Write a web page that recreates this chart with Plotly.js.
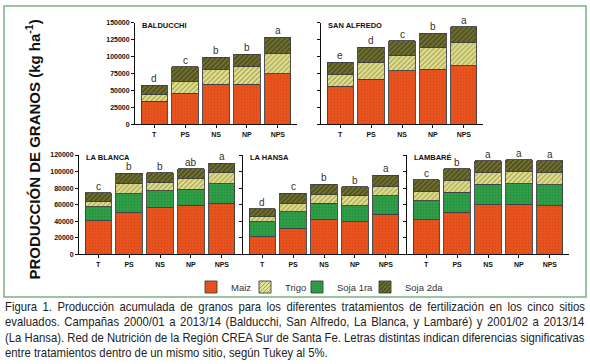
<!DOCTYPE html>
<html><head><meta charset="utf-8">
<script src="https://cdn.plot.ly/plotly-3.0.1.min.js"></script>
<style>html,body{margin:0;padding:0;background:#fff}#wrap{position:relative;width:590px;height:364px;overflow:hidden}#chart{position:absolute;left:0;top:0;width:590px;height:364px}#caption{position:absolute;left:0;top:0;width:590px;height:364px;pointer-events:none}</style>
</head><body><div id="wrap"><div id="chart"></div><div id="caption"></div></div>
<script>
const treatments = ['T', 'PS', 'NS', 'NP', 'NPS'];
const siteNames = ['BALDUCCHI', 'SAN ALFREDO', 'LA BLANCA', 'LA HANSA', 'LAMBARÉ'];
const seriesNames = ['Maiz', 'Trigo', 'Soja 1ra', 'Soja 2da'];

// kg/ha, accumulated
const maizBalducchi   = [34000, 46000, 59500, 59500, 75000];
const trigoBalducchi  = [9500, 17500, 21500, 26500, 29500];
const soja2Balducchi  = [14500, 21500, 18300, 17300, 23800];
const letrasBalducchi = ['d', 'c', 'b', 'b', 'a'];

const maizSanAlfredo   = [56500, 66400, 78700, 81100, 86100];
const trigoSanAlfredo  = [16300, 24600, 23600, 32000, 34400];
const soja2SanAlfredo  = [18700, 23100, 20700, 21700, 23600];
const letrasSanAlfredo = ['e', 'd', 'c', 'b', 'a'];

const maizLaBlanca   = [40300, 50300, 56400, 59200, 61600];
const soja1LaBlanca  = [16900, 22600, 20500, 19700, 23400];
const trigoLaBlanca  = [7200, 12900, 10100, 12900, 14100];
const soja2LaBlanca  = [10100, 12100, 11700, 11700, 10800];
const letrasLaBlanca = ['c', 'b', 'b', 'ab', 'a'];

const maizLaHansa   = [21300, 31400, 42300, 39500, 48700];
const soja1LaHansa  = [18200, 20100, 19300, 19300, 21800];
const trigoLaHansa  = [6000, 9300, 10100, 11700, 11200];
const soja2LaHansa  = [9300, 12900, 12900, 11200, 14100];
const letrasLaHansa = ['d', 'c', 'b', 'b', 'a'];

const maizLambare   = [41500, 50700, 59600, 60400, 58800];
const soja1Lambare  = [23300, 24200, 25000, 24600, 25400];
const trigoLambare  = [11700, 14100, 14500, 14900, 14900];
const soja2Lambare  = [13300, 14100, 14100, 14100, 14100];
const letrasLambare = ['c', 'b', 'a', 'a', 'a'];

const yTicksTop = [0, 25000, 50000, 75000, 100000, 125000, 150000];
const yTicksBottom = [0, 20000, 40000, 60000, 80000, 100000, 120000];

const captionLines = [
  'Figura 1. Producción acumulada de granos para los diferentes tratamientos de fertilización en los cinco sitios',
  'evaluados. Campañas 2000/01 a 2013/14 (Balducchi, San Alfredo, La Blanca, y Lambaré) y 2001/02 a 2013/14',
  '(La Hansa). Red de Nutrición de la Región CREA Sur de Santa Fe. Letras distintas indican diferencias significativas',
  'entre tratamientos dentro de un mismo sitio, según Tukey al 5%.'
];

const W = 590, H = 364;
const FONT = 'Liberation Sans, Arial, sans-serif';
const px = v => v / W;
const py = v => 1 - v / H;

const styles = {
  'Maiz':     {bg: '#E9541E', fg: '#D6481A', shape: '.', size: 3, solidity: 0.25, legend: 'legend',  lx: 191},
  'Trigo':    {bg: '#E4E296', fg: '#A3A04A', shape: '/', size: 3.5, solidity: 0.35, legend: 'legend2', lx: 245},
  'Soja 1ra': {bg: '#2E9F48', fg: '#27893D', shape: '.', size: 3, solidity: 0.25, legend: 'legend3', lx: 297},
  'Soja 2da': {bg: '#4F4F1F', fg: '#7C7C3A', shape: '/', size: 3.5, solidity: 0.4, legend: 'legend4', lx: 365}
};

const panels = [
  {name: siteNames[0], stack: [['Maiz', maizBalducchi], ['Trigo', trigoBalducchi], ['Soja 2da', soja2Balducchi]], letters: letrasBalducchi,
   xd: [135, 297], yd: [124.3, 22.7], ymax: 150000, ticks: yTicksTop, labels: true},
  {name: siteNames[1], stack: [['Maiz', maizSanAlfredo], ['Trigo', trigoSanAlfredo], ['Soja 2da', soja2SanAlfredo]], letters: letrasSanAlfredo,
   xd: [321, 483], yd: [124.3, 22.7], ymax: 150000, ticks: yTicksTop, labels: false},
  {name: siteNames[2], stack: [['Maiz', maizLaBlanca], ['Soja 1ra', soja1LaBlanca], ['Trigo', trigoLaBlanca], ['Soja 2da', soja2LaBlanca]], letters: letrasLaBlanca,
   xd: [79, 241], yd: [254.3, 155], ymax: 120000, ticks: yTicksBottom, labels: true},
  {name: siteNames[3], stack: [['Maiz', maizLaHansa], ['Soja 1ra', soja1LaHansa], ['Trigo', trigoLaHansa], ['Soja 2da', soja2LaHansa]], letters: letrasLaHansa,
   xd: [243, 405], yd: [254.3, 155], ymax: 120000, ticks: yTicksBottom, labels: false},
  {name: siteNames[4], stack: [['Maiz', maizLambare], ['Soja 1ra', soja1Lambare], ['Trigo', trigoLambare], ['Soja 2da', soja2Lambare]], letters: letrasLambare,
   xd: [407, 569], yd: [254.3, 155], ymax: 120000, ticks: yTicksBottom, labels: false}
];

const traces = [];
const annotations = [];
const layout = {
  width: W, height: H,
  margin: {l: 0, r: 0, t: 0, b: 0},
  paper_bgcolor: 'rgba(0,0,0,0)', plot_bgcolor: '#fff',
  barmode: 'stack', bargap: 0.15,
  font: {family: FONT, color: '#222'},
  showlegend: true,
  shapes: [{type: 'rect', xref: 'paper', yref: 'paper', x0: px(4), x1: px(586), y0: py(297), y1: py(6),
            line: {color: '#78B282', width: 1.5}, fillcolor: 'rgba(0,0,0,0)'}],
  annotations: annotations
};
seriesNames.forEach(s => {
  const st = styles[s];
  layout[st.legend] = {orientation: 'h', x: px(st.lx), xanchor: 'left', y: py(287), yanchor: 'middle',
    font: {family: FONT, size: 9.5, color: '#333'}, bgcolor: 'rgba(0,0,0,0)', borderwidth: 0};
});

const legendShown = {};
panels.forEach((p, i) => {
  const n = i === 0 ? '' : String(i + 1);
  const xa = 'x' + n, ya = 'y' + n;
  p.stack.forEach(([s, vals]) => {
    const st = styles[s];
    const show = !legendShown[s];
    legendShown[s] = true;
    traces.push({
      type: 'bar', x: treatments, y: vals, name: s, xaxis: xa, yaxis: ya,
      legendgroup: s, showlegend: show, legend: st.legend,
      marker: {color: st.bg, line: {color: '#3f3f3f', width: 0.9},
               pattern: {shape: st.shape, bgcolor: st.bg, fgcolor: st.fg, size: st.size, solidity: st.solidity}},
      hoverinfo: 'skip'
    });
  });
  layout['xaxis' + n] = {
    domain: [px(p.xd[0]), px(p.xd[1])], anchor: ya, type: 'category',
    range: [-0.62, 4.62], showline: true, linecolor: '#111', linewidth: 1,
    ticks: 'outside', ticklen: 3, tickcolor: '#111', showgrid: false, zeroline: false,
    tickfont: {family: FONT, size: 7, color: '#111', weight: 'bold'}, fixedrange: true
  };
  layout['yaxis' + n] = {
    domain: [py(p.yd[0]), py(p.yd[1])], anchor: xa,
    range: [0, p.ymax], showline: true, linecolor: '#111', linewidth: 1,
    ticks: 'outside', ticklen: 3, tickcolor: '#111', tickvals: p.ticks,
    ticktext: p.ticks.map(String), showticklabels: p.labels, showgrid: false, zeroline: false,
    tickfont: {family: FONT, size: 7, color: '#111', weight: 'bold'}, fixedrange: true
  };
  annotations.push({xref: 'paper', yref: 'paper', x: px(p.xd[0] + 5), y: py(p.yd[1] + 2.5), xanchor: 'left', yanchor: 'middle',
    text: p.name, showarrow: false, font: {family: FONT, size: 7.5, color: '#111', weight: 'bold'}});
  treatments.forEach((t, k) => {
    const total = p.stack.reduce((a, [, v]) => a + v[k], 0);
    annotations.push({xref: xa, yref: ya, x: t, y: total, yanchor: 'bottom', yshift: -1, showarrow: false,
      text: p.letters[k], font: {family: FONT, size: 10, color: '#333'}});
  });
});

annotations.push({xref: 'paper', yref: 'paper', x: px(21), y: py(150), textangle: -90, showarrow: false,
  text: '<b>PRODUCCIÓN DE GRANOS (kg ha<sup>-1</sup>)</b>', font: {family: FONT, size: 15, color: '#111'}});

Plotly.newPlot('chart', traces, layout, {displayModeBar: false, staticPlot: true});

// caption: justified, condensed lines
(function () {
  const cap = document.getElementById('caption');
  const fontCss = '13.5px "Liberation Sans", Arial, sans-serif';
  const ctx = document.createElement('canvas').getContext('2d');
  ctx.font = fontCss;
  const widths = captionLines.map(l => ctx.measureText(l).width);
  const left = 5, target = 580;
  const s = Math.min.apply(null, widths.slice(0, 3).map(w => target / w));
  captionLines.forEach((line, i) => {
    const d = document.createElement('div');
    d.textContent = line;
    d.style.cssText = 'position:absolute;left:' + left + 'px;top:' + (298.5 + i * 15.6) + 'px;white-space:nowrap;font:' + fontCss +
      ';line-height:15.6px;color:#222;transform-origin:0 0;transform:scaleX(' + s + ')';
    if (i < captionLines.length - 1) {
      const spaces = (line.match(/ /g) || []).length;
      d.style.wordSpacing = ((target / s - widths[i]) / spaces) + 'px';
    }
    cap.appendChild(d);
  });
})();
</script></body></html>
